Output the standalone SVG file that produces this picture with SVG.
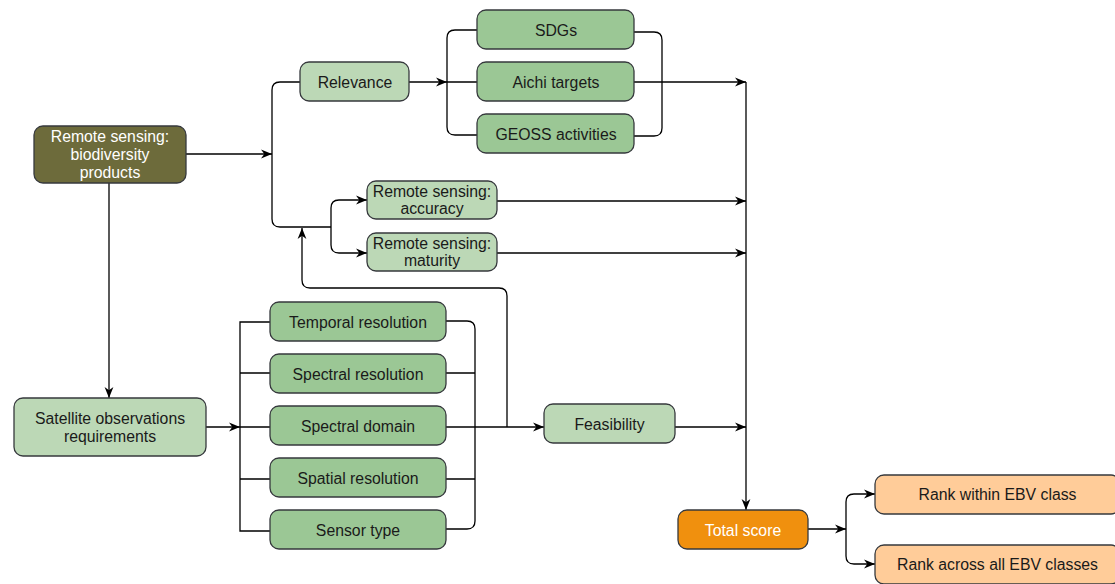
<svg xmlns="http://www.w3.org/2000/svg" width="1115" height="584" viewBox="0 0 1115 584">
<defs>
<marker id="arr" markerUnits="userSpaceOnUse" markerWidth="11" markerHeight="11" viewBox="0 0 10 10" refX="10" refY="5" orient="auto">
<path d="M0,1 L10,5 L0,9 L3,5 z" fill="#000"/>
</marker>
<style>
.n rect{stroke:#36393d;stroke-width:1.3}
.t{font-family:"Liberation Sans",Arial,Helvetica,sans-serif;font-size:15.8px;text-anchor:middle;fill:#1a1a1a}
.w{fill:#fff}
.olive{fill:#6d6b3b}
.lg{fill:#bcd8b6}
.mg{fill:#9bc795}
.or{fill:#f0900e}
.lo{fill:#ffcc99}
#conn path{fill:none;stroke:#000;stroke-width:1.3}
.a{marker-end:url(#arr)}
</style>
</defs>
<rect width="1115" height="584" fill="#fff"/>
<g id="conn">
<path class="a" d="M186,154 H272"/>
<path d="M300,82 H280 Q272,82 272,90 V219 Q272,227 280,227 H331"/>
<path class="a" d="M331,227 V208 Q331,200 339,200 H367"/>
<path class="a" d="M331,227 V245 Q331,253 339,253 H367"/>
<path class="a" d="M507,427 V296 Q507,288 499,288 H310 Q302,288 302,280 V228"/>
<path class="a" d="M409,82 H447"/>
<path d="M477,30 H455 Q447,30 447,38 V127 Q447,135 455,135 H477 M447,82 H477"/>
<path d="M634,32 H654 Q662,32 662,40 V128 Q662,136 654,136 H634"/>
<path class="a" d="M634,82 H746"/>
<path class="a" d="M497,201 H746"/>
<path class="a" d="M497,253 H746"/>
<path class="a" d="M746,82 V510"/>
<path class="a" d="M675,427 H746"/>
<path class="a" d="M109,183 V398"/>
<path class="a" d="M206,427 H240"/>
<path d="M270,322 H240 V531 H270 M240,373 H270 M240,427 H270 M240,479 H270"/>
<path d="M446,321 H467 Q475,321 475,329 V521 Q475,529 467,529 H446 M446,373 H475 M446,479 H475"/>
<path class="a" d="M446,427 H544"/>
<path class="a" d="M808,529 H846"/>
<path class="a" d="M846,529 V502 Q846,494 854,494 H875"/>
<path class="a" d="M846,529 V556 Q846,564 854,564 H875"/>
</g>
<g id="rs-products" class="n"><rect class="olive" x="34" y="126" width="152" height="57" rx="9"/><text class="t w" x="110" y="141.5">Remote sensing:</text><text class="t w" x="110" y="160">biodiversity</text><text class="t w" x="110" y="178">products</text></g>
<g id="relevance" class="n"><rect class="lg" x="300" y="62" width="109" height="39" rx="9"/><text class="t" x="355" y="87.5">Relevance</text></g>
<g id="sdgs" class="n"><rect class="mg" x="477" y="10" width="157" height="39" rx="9"/><text class="t" x="556" y="35.5">SDGs</text></g>
<g id="aichi" class="n"><rect class="mg" x="477" y="62" width="157" height="39" rx="9"/><text class="t" x="556" y="87.5">Aichi targets</text></g>
<g id="geoss" class="n"><rect class="mg" x="477" y="114" width="157" height="39" rx="9"/><text class="t" x="556" y="139.5">GEOSS activities</text></g>
<g id="accuracy" class="n"><rect class="lg" x="367" y="181" width="130" height="38" rx="9"/><text class="t" x="432" y="197">Remote sensing:</text><text class="t" x="432" y="214">accuracy</text></g>
<g id="maturity" class="n"><rect class="lg" x="367" y="233" width="130" height="38" rx="9"/><text class="t" x="432" y="249">Remote sensing:</text><text class="t" x="432" y="266">maturity</text></g>
<g id="satellite" class="n"><rect class="lg" x="14" y="398" width="192" height="58" rx="9"/><text class="t" x="110" y="424">Satellite observations</text><text class="t" x="110" y="442">requirements</text></g>
<g id="temporal" class="n"><rect class="mg" x="270" y="302" width="176" height="39" rx="9"/><text class="t" x="358" y="327.5">Temporal resolution</text></g>
<g id="spectral-res" class="n"><rect class="mg" x="270" y="354" width="176" height="39" rx="9"/><text class="t" x="358" y="379.5">Spectral resolution</text></g>
<g id="spectral-dom" class="n"><rect class="mg" x="270" y="406" width="176" height="39" rx="9"/><text class="t" x="358" y="431.5">Spectral domain</text></g>
<g id="spatial" class="n"><rect class="mg" x="270" y="458" width="176" height="39" rx="9"/><text class="t" x="358" y="483.5">Spatial resolution</text></g>
<g id="sensor" class="n"><rect class="mg" x="270" y="510" width="176" height="39" rx="9"/><text class="t" x="358" y="535.5">Sensor type</text></g>
<g id="feasibility" class="n"><rect class="lg" x="544" y="404" width="131" height="39" rx="9"/><text class="t" x="609.5" y="429.5">Feasibility</text></g>
<g id="total" class="n"><rect class="or" x="678" y="510" width="130" height="39" rx="9"/><text class="t w" x="743" y="535.5">Total score</text></g>
<g id="rank-within" class="n"><rect class="lo" x="875" y="475" width="245" height="39" rx="9"/><text class="t" x="997.5" y="500">Rank within EBV class</text></g>
<g id="rank-across" class="n"><rect class="lo" x="875" y="545" width="245" height="39" rx="9"/><text class="t" x="997.5" y="570">Rank across all EBV classes</text></g>
</svg>
